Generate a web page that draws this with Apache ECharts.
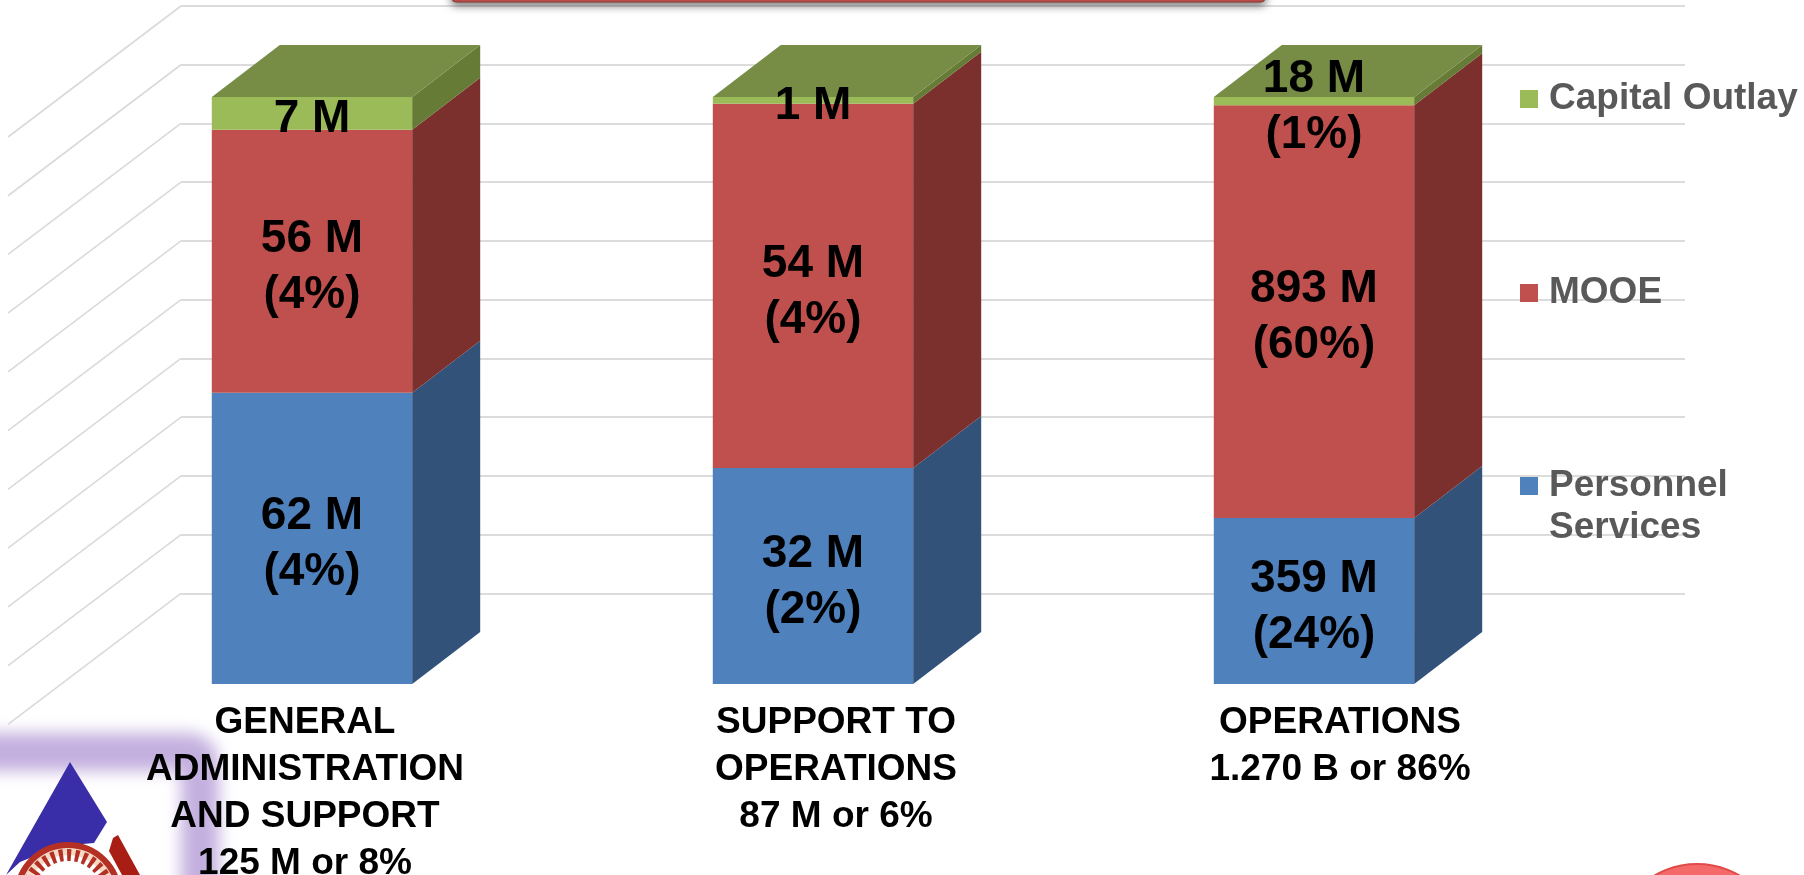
<!DOCTYPE html>
<html>
<head>
<meta charset="utf-8">
<style>
    html, body { margin: 0; padding: 0; background: #fff; }
    #chart { width: 1804px; height: 875px; }
</style>
<script src="https://cdn.jsdelivr.net/npm/echarts@6/dist/echarts.min.js"></script>
</head>
<body>
<div id="chart"></div>
<script>
// values in millions
var categories = [
    'GENERAL\nADMINISTRATION\nAND SUPPORT\n125 M or 8%',
    'SUPPORT TO\nOPERATIONS\n87 M or 6%',
    'OPERATIONS\n1.270 B or 86%'
];
var personnelValues = [62, 32, 359];
var mooeValues = [56, 54, 893];
var capitalValues = [7, 1, 18];
var personnelLabels = ['62 M\n(4%)', '32 M\n(2%)', '359 M\n(24%)'];
var mooeLabels = ['56 M\n(4%)', '54 M\n(4%)', '893 M\n(60%)'];
var capitalLabels = ['7 M', '1 M', '18 M\n(1%)'];
var wallTicks = [0, 1, 2, 3, 4, 5, 6, 7, 8, 9, 10];

var FONT = '"Liberation Sans", Arial, sans-serif';
// front, side and top colours of the fake 3d columns
var faces = {
    'Personnel Services': { front: '#4F81BD', side: '#32527A' },
    'MOOE': { front: '#C0504D', side: '#7C302E' },
    'Capital Outlay': { front: '#9BBB59', side: '#667B36', top: '#778D45' }
};
var DEPTH_X = 68;
var DEPTH_Y = 52;

// 100% stacked: each column is split by its own total
function stackRows(own, below, labels) {
    return own.map(function (v, i) {
        var total = personnelValues[i] + mooeValues[i] + capitalValues[i];
        var start = 0;
        below.forEach(function (arr) { start += arr[i]; });
        return [i, start / total * 100, (start + v) / total * 100, labels[i]];
    });
}

function poly(points, fill) {
    return { type: 'polygon', shape: { points: points }, style: { fill: fill } };
}

function barItem(name) {
    return function (params, api) {
        var c = faces[name];
        var w = api.size([1, 0])[0] * 0.4;
        var p0 = api.coord([api.value(0), api.value(1)]);
        var p1 = api.coord([api.value(0), api.value(2)]);
        var l = p0[0] - w / 2;
        var r = p0[0] + w / 2;
        var children = [
            poly([[l, p1[1]], [r, p1[1]], [r, p0[1]], [l, p0[1]]], c.front),
            poly([[r, p1[1]], [r + DEPTH_X, p1[1] - DEPTH_Y], [r + DEPTH_X, p0[1] - DEPTH_Y], [r, p0[1]]], c.side)
        ];
        if (c.top) {
            children.push(poly([[l, p1[1]], [l + DEPTH_X, p1[1] - DEPTH_Y], [r + DEPTH_X, p1[1] - DEPTH_Y], [r, p1[1]]], c.top));
        }
        children.push({
            type: 'text',
            style: {
                text: api.value(3),
                x: p0[0],
                y: (p0[1] + p1[1]) / 2 + 6,
                align: 'center',
                verticalAlign: 'middle',
                fill: '#000',
                font: 'bold 46px ' + FONT,
                lineHeight: 56
            }
        });
        return { type: 'group', children: children };
    };
}

function barSeries(name, rows) {
    return {
        name: name,
        type: 'custom',
        xAxisIndex: 0,
        yAxisIndex: 0,
        z: 5,
        itemStyle: { color: faces[name].front },
        encode: { x: 0, y: [1, 2] },
        data: rows,
        renderItem: barItem(name)
    };
}

function legendAt(name, top) {
    return {
        data: [name],
        orient: 'vertical',
        left: 1520,
        top: top,
        padding: 0,
        selectedMode: false,
        icon: 'rect',
        itemWidth: 18,
        itemHeight: 18,
        // blank first line keeps the swatch level with "Personnel"
        formatter: function (n) { return n === 'Personnel Services' ? '\nPersonnel\nServices' : n; },
        textStyle: {
            color: '#595959',
            fontFamily: FONT,
            fontWeight: 'bold',
            fontSize: 37,
            lineHeight: 42,
            padding: [0, 0, 0, 6]
        }
    };
}

var myChart = echarts.init(document.getElementById('chart'), null, { renderer: 'canvas' });
myChart.setOption({
    animation: false,
    backgroundColor: '#fff',
    textStyle: { fontFamily: FONT },
    grid: [
        { left: 61.5, top: 97, width: 1503, height: 587, outerBoundsMode: 'none' },
        { left: 181, top: 6, width: 1504, height: 587.4, outerBoundsMode: 'none' }
    ],
    xAxis: [
        {
            gridIndex: 0,
            type: 'category',
            data: [
                { value: categories[0], textStyle: { padding: [0, 14, 0, 0] } },
                { value: categories[1], textStyle: { padding: [0, 0, 0, 46] } },
                { value: categories[2], textStyle: { padding: [0, 0, 0, 52] } }
            ],
            axisLine: { show: false },
            axisTick: { show: false },
            axisLabel: {
                interval: 0,
                margin: 15,
                color: '#000',
                fontFamily: FONT,
                fontWeight: 'bold',
                fontSize: 37,
                lineHeight: 47
            }
        },
        { gridIndex: 1, type: 'value', min: 0, max: 1, show: false }
    ],
    yAxis: [
        { gridIndex: 0, type: 'value', min: 0, max: 100, show: false },
        {
            gridIndex: 1,
            type: 'value',
            min: 0,
            max: 10,
            interval: 1,
            axisLine: { show: false },
            axisTick: { show: false },
            axisLabel: { show: false },
            splitLine: { show: true, lineStyle: { color: '#DCDCDC', width: 2 } }
        }
    ],
    legend: [
        legendAt('Capital Outlay', 78),
        legendAt('MOOE', 272),
        legendAt('Personnel Services', 423)
    ],
    series: [
        {
            // diagonal lines of the side wall
            type: 'custom',
            xAxisIndex: 1,
            yAxisIndex: 1,
            z: 1,
            silent: true,
            encode: { y: 0 },
            data: wallTicks,
            renderItem: function (params, api) {
                var p = api.coord([0, api.value(0)]);
                return {
                    type: 'line',
                    shape: { x1: p[0], y1: p[1], x2: p[0] - 173, y2: p[1] + 131 },
                    style: { stroke: '#DADADA', lineWidth: 1.6 }
                };
            }
        },
        barSeries('Personnel Services', stackRows(personnelValues, [], personnelLabels)),
        barSeries('MOOE', stackRows(mooeValues, [personnelValues], mooeLabels)),
        barSeries('Capital Outlay', stackRows(capitalValues, [personnelValues, mooeValues], capitalLabels))
    ],
    graphic: [
        // slide title box cut off by the top edge
        {
            type: 'rect', z: 3,
            shape: { x: 452, y: -12, width: 813, height: 14, r: 4 },
            style: { fill: '#C0504D', stroke: '#8E3A37', lineWidth: 1, shadowBlur: 8, shadowOffsetY: 3, shadowColor: 'rgba(0,0,0,0.55)' }
        },
        // soft purple glow behind the logo: only the shadow lands on the page
        {
            type: 'rect', z: 0, silent: true,
            shape: { x: -3060, y: 752, width: 260, height: 220, r: 12 },
            style: { fill: 'none', stroke: '#C4B0DF', lineWidth: 38, shadowBlur: 16, shadowOffsetX: 3000, shadowColor: '#C4B0DF' }
        },
        {
            type: 'polygon', z: 0, silent: true,
            shape: { points: [[70, 762], [107, 822], [94, 843], [60, 846], [20, 862], [6, 875]] },
            style: { fill: '#3A2EA8' }
        },
        {
            type: 'polygon', z: 0, silent: true,
            shape: { points: [[113, 838], [118, 835], [140, 875], [122, 875], [109, 851]] },
            style: { fill: '#A81E14' }
        },
        {
            type: 'circle', z: 0, silent: true,
            shape: { cx: 68, cy: 896, r: 51 },
            style: { fill: '#F4D9C4', stroke: '#B53024', lineWidth: 6 }
        },
        {
            type: 'circle', z: 0, silent: true,
            shape: { cx: 68, cy: 896, r: 41 },
            style: { fill: '#fff', stroke: '#B53024', lineWidth: 12, lineDash: [4, 4] }
        },
        // red circle at the bottom edge
        {
            type: 'circle', z: 0, silent: true,
            shape: { cx: 1697, cy: 948, r: 84 },
            style: { fill: '#F46A6A', stroke: '#E24A4A', lineWidth: 2 }
        }
    ]
});
</script>
</body>
</html>
